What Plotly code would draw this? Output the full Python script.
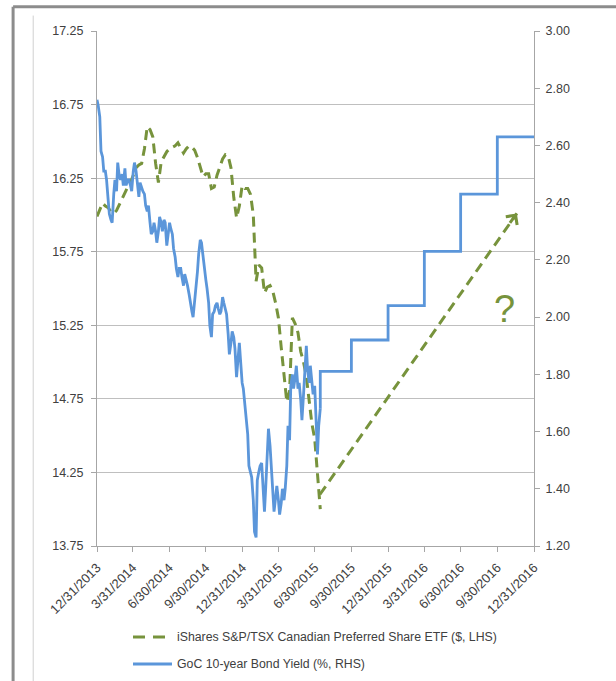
import pandas as pd
import plotly.graph_objects as go

# Weekly ETF observations, 31 Dec 2013 to 14 Jul 2015
etf_dates = pd.date_range("2013-12-31", "2015-07-14", freq="7D")

# Bond yield sampled twice a week (Tuesdays and Fridays) over the same span
yield_dates = pd.date_range("2013-12-31", "2015-07-14", freq="W-TUE").union(
    pd.date_range("2013-12-31", "2015-07-14", freq="W-FRI"))

# iShares S&P/TSX Canadian Preferred Share ETF price ($)
etf_price = [
    15.99, 16.03, 16.08, 16.06, 16.05, 16.02, 16.01, 16.03, 16.07, 16.11,
    16.16, 16.19, 16.22, 16.27, 16.32, 16.34, 16.35, 16.45, 16.60, 16.58,
    16.53, 16.35, 16.22, 16.36, 16.40, 16.43, 16.45, 16.46, 16.47, 16.49,
    16.45, 16.42, 16.45, 16.47, 16.46, 16.44, 16.39, 16.33, 16.26, 16.28,
    16.28, 16.18, 16.19, 16.27, 16.33, 16.38, 16.41, 16.40, 16.32, 16.12,
    15.98, 16.06, 16.20, 16.18, 16.18, 16.14, 16.00, 15.55, 15.66, 15.64,
    15.47, 15.51, 15.52, 15.48, 15.40, 15.30, 15.10, 14.90, 14.73, 14.80,
    15.30, 15.26, 15.20, 15.07, 15.00, 14.90, 14.74, 14.58, 14.48, 14.25,
    14.00,
]

# Government of Canada 10-year bond yield (%)
bond_yield = [
    2.76, 2.74, 2.70, 2.58, 2.56, 2.51, 2.51, 2.48, 2.41, 2.36,
    2.34, 2.33, 2.43, 2.48, 2.44, 2.54, 2.49, 2.48, 2.50, 2.46,
    2.52, 2.46, 2.48, 2.48, 2.46, 2.44, 2.51, 2.54, 2.51, 2.46,
    2.42, 2.47, 2.45, 2.44, 2.43, 2.39, 2.37, 2.39, 2.33, 2.29,
    2.30, 2.33, 2.30, 2.26, 2.30, 2.35, 2.33, 2.30, 2.34, 2.33,
    2.25, 2.29, 2.33, 2.31, 2.29, 2.24, 2.21, 2.17, 2.14, 2.17,
    2.17, 2.14, 2.11, 2.15, 2.13, 2.11, 2.08, 2.05, 2.02, 2.00,
    2.05, 2.11, 2.16, 2.22, 2.27, 2.26, 2.21, 2.16, 2.13, 2.10,
    2.05, 1.97, 1.93, 2.01, 2.02, 2.04, 2.05, 2.03, 2.01, 2.02,
    2.07, 2.05, 2.03, 2.01, 1.94, 1.87, 1.91, 1.95, 1.93, 1.89,
    1.79, 1.85, 1.91, 1.85, 1.77, 1.75, 1.70, 1.64, 1.59, 1.48,
    1.46, 1.44, 1.36, 1.25, 1.23, 1.43, 1.46, 1.48, 1.49, 1.40,
    1.32, 1.40, 1.52, 1.61, 1.55, 1.48, 1.38, 1.32, 1.37, 1.41,
    1.36, 1.31, 1.35, 1.40, 1.36, 1.40, 1.48, 1.62, 1.57, 1.76,
    1.80, 1.75, 1.79, 1.83, 1.75, 1.77, 1.71, 1.64, 1.73, 1.82,
    1.90, 1.82, 1.77, 1.83, 1.76, 1.73, 1.76, 1.62, 1.52, 1.62,
    1.68,
]

# Quarterly yield path assumed from mid-2015 onward
forecast_dates = ["2015-07-14", "2015-09-30", "2015-12-31", "2016-03-31",
                  "2016-06-30", "2016-09-30", "2016-12-31"]
forecast_yield = [1.81, 1.92, 2.04, 2.23, 2.43, 2.63, 2.63]

# Hoped-for rebound in the ETF price
trend_dates = ["2015-07-13", "2016-11-18"]
trend_price = [14.10, 16.01]

tick_dates = ["2013-12-31", "2014-03-31", "2014-06-30", "2014-09-30",
              "2014-12-31", "2015-03-31", "2015-06-30", "2015-09-30",
              "2015-12-31", "2016-03-31", "2016-06-30", "2016-09-30",
              "2016-12-31"]
tick_labels = ["12/31/2013", "3/31/2014", "6/30/2014", "9/30/2014",
               "12/31/2014", "3/31/2015", "6/30/2015", "9/30/2015",
               "12/31/2015", "3/31/2016", "6/30/2016", "9/30/2016",
               "12/31/2016"]

ETF_NAME = "iShares S&P/TSX Canadian Preferred Share ETF ($, LHS)"
BOND_NAME = "GoC 10-year Bond Yield (%, RHS)"

GREEN = "#77933C"
BLUE = "#5B96DA"
TEXT = "#404040"
AXIS = "#A6A6A6"
GRID = "#BFBFBF"
FONT = "Liberation Sans, Arial, sans-serif"
DASH = "10px,6px"

fig = go.Figure()

fig.add_trace(go.Scatter(
    x=etf_dates, y=etf_price, mode="lines", yaxis="y", name=ETF_NAME,
    line=dict(color=GREEN, width=3, dash=DASH), showlegend=False,
))
fig.add_trace(go.Scatter(
    x=yield_dates, y=bond_yield, mode="lines", yaxis="y2", name=BOND_NAME,
    line=dict(color=BLUE, width=2.8), showlegend=False,
))
fig.add_trace(go.Scatter(
    x=[yield_dates[-1]] + forecast_dates,
    y=[bond_yield[-1]] + forecast_yield,
    mode="lines", yaxis="y2", name=BOND_NAME, showlegend=False,
    line=dict(color=BLUE, width=2.8, shape="hv"),
))
fig.add_trace(go.Scatter(
    x=trend_dates, y=trend_price, mode="lines", yaxis="y",
    showlegend=False, hoverinfo="skip",
    line=dict(color=GREEN, width=3, dash=DASH),
))

fig.add_annotation(
    x=trend_dates[1], y=trend_price[1], xref="x", yref="y",
    ax=-8, ay=11, showarrow=True, arrowhead=4, arrowsize=0.9,
    arrowwidth=3, arrowcolor=GREEN, text="",
)
fig.add_annotation(
    x="2016-10-19", y=2.03, xref="x", yref="y2", text="?",
    showarrow=False, font=dict(family=FONT, size=38, color=GREEN),
)

# legend drawn below the plot: sample line + label for each series
legend_rows = [
    (ETF_NAME, GREEN, "dash", -0.1767),
    (BOND_NAME, BLUE, "solid", -0.2291),
]
for label, color, style, ypos in legend_rows:
    if style == "dash":
        for x0, x1 in [(0.0824, 0.1098), (0.1281, 0.1556)]:
            fig.add_shape(type="line", xref="paper", yref="paper",
                          x0=x0, x1=x1, y0=ypos, y1=ypos,
                          line=dict(color=color, width=3))
    else:
        fig.add_shape(type="line", xref="paper", yref="paper",
                      x0=0.0824, x1=0.1716, y0=ypos, y1=ypos,
                      line=dict(color=color, width=3))
    fig.add_annotation(
        x=0.1785, y=ypos, xref="paper", yref="paper", text=label,
        xanchor="left", yanchor="middle", showarrow=False,
        font=dict(family=FONT, size=12.3, color=TEXT),
    )

# outer chart frame
frame = dict(color="#8C8C8C", width=3)
fig.add_shape(type="line", xref="paper", yref="paper",
              x0=-0.192, x1=1.2, y0=1.047, y1=1.047, line=frame)
fig.add_shape(type="line", xref="paper", yref="paper",
              x0=-0.192, x1=-0.192, y0=1.047, y1=-0.27, line=frame)
fig.add_shape(type="line", xref="paper", yref="paper",
              x0=-0.146, x1=-0.146, y0=1.03, y1=-0.27,
              line=dict(color="#D0D0D0", width=1))

tickfont = dict(family=FONT, size=12.5, color=TEXT)
fig.update_layout(
    width=616, height=681, autosize=False,
    margin=dict(l=97, r=82, t=31, b=135),
    paper_bgcolor="white", plot_bgcolor="white",
    font=dict(family=FONT, size=12, color=TEXT),
    showlegend=False,
    xaxis=dict(
        type="date", range=["2013-12-31", "2016-12-31"],
        tickmode="array", tickvals=tick_dates, ticktext=tick_labels,
        tickangle=-45, ticks="outside", ticklen=5, tickcolor=AXIS,
        ticklabelstandoff=3,
        showline=True, linecolor=AXIS, linewidth=1,
        showgrid=False, zeroline=False, automargin=False,
        tickfont=dict(family=FONT, size=13, color=TEXT),
    ),
    yaxis=dict(
        range=[13.75, 17.25], tickmode="linear", tick0=13.75, dtick=0.5,
        tickformat=".2f", ticks="outside", ticklen=5, tickcolor=AXIS,
        ticklabelstandoff=5,
        showline=True, linecolor=AXIS, linewidth=1,
        showgrid=True, gridcolor=GRID, gridwidth=1, zeroline=False,
        automargin=False, tickfont=tickfont,
    ),
    yaxis2=dict(
        range=[1.2, 3.0], tickmode="linear", tick0=1.2, dtick=0.2,
        tickformat=".2f", ticks="outside", ticklen=5, tickcolor=AXIS,
        ticklabelstandoff=3,
        overlaying="y", side="right",
        showline=True, linecolor=AXIS, linewidth=1,
        showgrid=False, zeroline=False, automargin=False,
        tickfont=tickfont,
    ),
    hovermode=False,
)

fig.write_html("out.html")
